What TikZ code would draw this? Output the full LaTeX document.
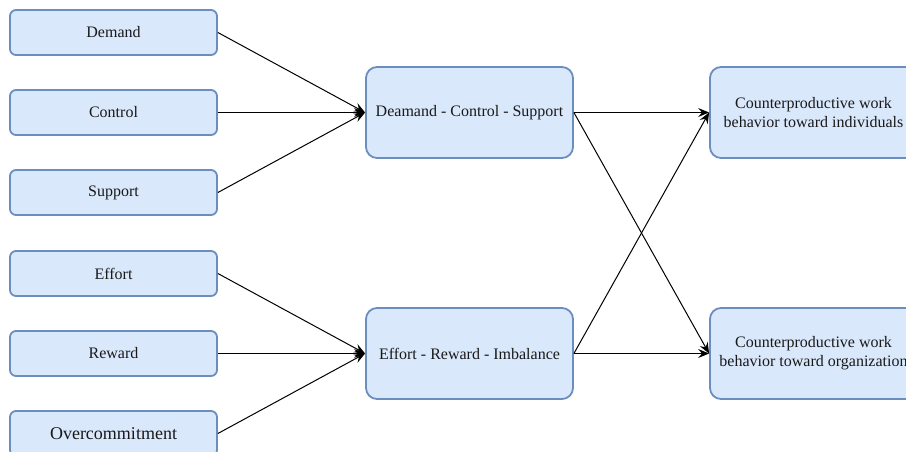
\documentclass[tikz,border=0pt]{standalone}
\usepackage{fontspec}
\setmainfont{Liberation Serif}
\newfontfamily\diagfont{Liberation Serif}
\usetikzlibrary{arrows.meta}
\definecolor{boxfill}{HTML}{DAE8FC}
\definecolor{boxdraw}{HTML}{6C8EBF}
\begin{document}
\begin{tikzpicture}[x=1pt,y=1pt,
  base/.style={draw=boxdraw, fill=boxfill, line width=1.8pt, align=center, inner sep=0pt,
    font=\diagfont\fontsize{16}{19}\selectfont, text=black!90},
  smallbox/.style={base, rounded corners=6pt, minimum width=207pt, minimum height=45pt},
  bigbox/.style={base, rounded corners=11pt, minimum width=207pt, minimum height=91pt},
  conn/.style={draw=black, line width=1pt, -{Stealth[length=11pt,width=9pt,inset=4pt]}}]
\useasboundingbox (0,0) rectangle (906,-451);
\node[smallbox] (demand) at (113.5,-32.5) {Demand};
\node[smallbox] (control) at (113.5,-112.5) {Control};
\node[smallbox] (support) at (113.5,-192.5) {Support};
\node[smallbox] (effort) at (113.5,-273.5) {Effort};
\node[smallbox] (reward) at (113.5,-353.5) {Reward};
\node[smallbox, font=\diagfont\fontsize{18}{21}\selectfont] (over) at (113.5,-433.5) {Overcommitment};
\node[bigbox] (dcs) at (469.5,-112.5) {Deamand - Control - Support};
\node[bigbox] (eri) at (469.5,-353.5) {Effort - Reward - Imbalance};
\node[bigbox] (cwbi) at (813.5,-112.5) {Counterproductive work\\behavior toward individuals};
\node[bigbox] (cwbo) at (813.5,-353.5) {Counterproductive work\\behavior toward organization};
\draw[conn] (demand.east) -- (dcs.west);
\draw[conn] (control.east) -- (dcs.west);
\draw[conn] (support.east) -- (dcs.west);
\draw[conn] (effort.east) -- (eri.west);
\draw[conn] (reward.east) -- (eri.west);
\draw[conn] (over.east) -- (eri.west);
\draw[conn] (dcs.east) -- (cwbi.west);
\draw[conn] (dcs.east) -- (cwbo.west);
\draw[conn] (eri.east) -- (cwbo.west);
\draw[conn] (eri.east) -- (cwbi.west);
\end{tikzpicture}
\end{document}
